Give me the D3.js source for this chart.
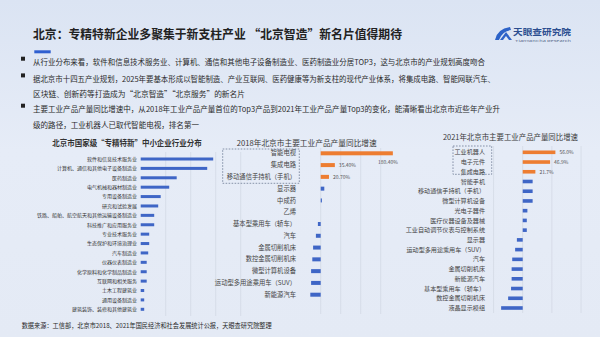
<!DOCTYPE html>
<html>
<head>
<meta charset="utf-8">
<script src="https://cdn.jsdelivr.net/npm/d3@7"></script>
<style>
  html, body { margin: 0; padding: 0; background: #e3eaf5; }
  svg { display: block; font-family: "Noto Sans CJK SC", "Noto Sans", sans-serif; }
</style>
</head>
<body>
<svg id="chart"></svg>
<script>
var width = 600,
    height = 337;

// ---- data ----
var bullets = [
  ["从行业分布来看，软件和信息技术服务业、计算机、通信和其他电子设备制造业、医药制造业分居TOP3，这与北京市的产业规划高度吻合"],
  ["据北京市十四五产业规划，2025年要基本形成以智能制造、产业互联网、医药健康等为新支柱的现代产业体系，将集成电路、智能网联汽车、",
   "区块链、创新药等打造成为“北京智造”“北京服务”的新名片"],
  ["主要工业产品产量同比增速中，从2018年工业产品产量首位的Top3产品到2021年工业产品产量Top3的变化，能清晰看出北京市近些年产业升",
   "级的路径，工业机器人已取代智能电视，排名第一"]
];

var industryCats = ["软件和信息技术服务业", "计算机、通信和其他电子设备制造业", "医药制造业", "电气机械和器材制造业",
  "专用设备制造业", "研究和试验发展", "铁路、船舶、航空航天和其他运输设备制造业", "科技推广和应用服务业",
  "专业技术服务业", "生态保护和环境治理业", "汽车制造业", "仪器仪表制造业", "化学原料和化学制品制造业",
  "互联网和相关服务", "土木工程建筑业", "通用设备制造业", "建筑装饰、装修和其他建筑业"];
var industryVals = [145, 133, 72, 57, 40, 35, 27, 27, 17, 17, 15, 12, 12, 12, 7, 7, 7];
var industryTicks = [0, 50, 100, 150, 200];

var cats2018 = ["智能电视", "集成电路", "移动通信手持机（手机）", "显示器", "中成药", "乙烯",
  "基本型乘用车（轿车）", "汽车", "金属切削机床", "数控金属切削机床", "微型计算机设备",
  "运动型多用途乘用车（SUV）", "新能源汽车"];
var vals2018 = [180.4, 35.4, 20.7, 9, 3, 0, -7, -12, -19, -21, -24, -24, -26];
var labels2018 = ["180.40%", "35.40%", "20.70%"];
var ticks2018 = [0, 50, 100, 150];

var cats2021 = ["工业机器人", "电子元件", "集成电路", "智能手机", "移动通信手持机（手机）", "微型计算机设备",
  "光电子器件", "医疗仪器设备及器械", "工业自动调节仪表与控制系统", "显示器", "运动型多用途乘用车（SUV）",
  "汽车", "金属切削机床", "新能源汽车", "基本型乘用车（轿车）", "数控金属切削机床", "液晶显示模组"];
var vals2021 = [56.0, 46.9, 21.7, 17, 17, 17, 8, 7, 7, -10, -13, -18, -19, -19, -20, -25, -37];
var labels2021 = ["56.0%", "46.9%", "21.7%"];
var ticks2021 = [-50, 0, 50, 100];

var BLUE = "#3f66c6", ORANGE = "#ed7d31", GRID = "#cdd4df";

var svg = d3.select("#chart")
  .attr("width", width)
  .attr("height", height);

// background
var defs = svg.append("defs");
var grad = defs.append("linearGradient").attr("id", "bg").attr("x1", 0).attr("y1", 0).attr("x2", 0).attr("y2", 1);
grad.append("stop").attr("offset", "0%").attr("stop-color", "#dbe4f3");
grad.append("stop").attr("offset", "45%").attr("stop-color", "#e6ecf7");
grad.append("stop").attr("offset", "100%").attr("stop-color", "#e4eaf5");
svg.append("rect").attr("width", width).attr("height", height).attr("fill", "url(#bg)");

// title
svg.append("text")
  .attr("x", 33).attr("y", 39)
  .attr("font-size", 12).attr("font-weight", "bold").attr("fill", "#222")
  .attr("textLength", 369).attr("lengthAdjust", "spacingAndGlyphs")
  .text("北京：专精特新企业多聚集于新支柱产业 “北京智造”新名片值得期待");
svg.append("rect").attr("x", 34.3).attr("y", 50.3).attr("width", 16.4).attr("height", 3).attr("fill", "#2f5fd0");

// logo
var logo = svg.append("g");
logo.append("path")
  .attr("d", "M495,40 Q497,29 510,27 L511,30 Q502,31 499,40 Z")
  .attr("fill", "#2d63c8");
logo.append("path")
  .attr("d", "M500,40 L506,32 L512,40 Z")
  .attr("fill", "#2d63c8");
logo.append("path")
  .attr("d", "M503,40 L506,36 L509,40 Z")
  .attr("fill", "#e3eaf5");
logo.append("text")
  .attr("x", 513).attr("y", 35)
  .attr("font-size", 8.5).attr("font-weight", "bold").attr("fill", "#2b4d8f")
  .attr("textLength", 58).attr("lengthAdjust", "spacingAndGlyphs")
  .text("天眼查研究院");
logo.append("text")
  .attr("x", 515).attr("y", 41.5)
  .attr("font-size", 2.6).attr("fill", "#5a6b8c")
  .attr("textLength", 56).attr("lengthAdjust", "spacingAndGlyphs")
  .text("TianYanCha Research");

// bullets
var lineY = [[62.3], [79, 94.3], [109.3, 125]];
var lineW = [[452], [462, 212], [467, 166]];
bullets.forEach(function(lines, i) {
  svg.append("rect").attr("x", 21).attr("y", lineY[i][0] - 5.6).attr("width", 4).attr("height", 4).attr("fill", "#222");
  lines.forEach(function(t, j) {
    svg.append("text")
      .attr("x", 33).attr("y", lineY[i][j] + 2.8)
      .attr("font-size", 7.6).attr("fill", "#2a2a2a")
      .attr("textLength", lineW[i][j]).attr("lengthAdjust", "spacingAndGlyphs")
      .text(t);
  });
});

// ---- left chart: industry distribution ----
var xL = d3.scaleLinear().domain([0, 200]).range([140.7, 240.7]);
var yL = d3.scalePoint().domain(industryCats).range([159, 309.3]);

svg.append("text")
  .attr("x", 52.3).attr("y", 146.3)
  .attr("font-size", 8.3).attr("font-weight", "bold").attr("fill", "#333")
  .attr("textLength", 149.4).attr("lengthAdjust", "spacingAndGlyphs")
  .text("北京市国家级“专精特新”中小企业行业分布");

var gL = svg.append("g");
gL.selectAll("line.grid")
  .data(industryTicks.slice(1))
  .enter().append("line")
  .attr("class", "grid")
  .attr("x1", function(d) { return xL(d); })
  .attr("x2", function(d) { return xL(d); })
  .attr("y1", 152).attr("y2", 316)
  .attr("stroke", GRID).attr("stroke-width", 0.6);

gL.selectAll("rect.bar")
  .data(industryVals)
  .enter().append("rect")
  .attr("class", "bar")
  .attr("x", xL(0))
  .attr("y", function(d, i) { return yL(industryCats[i]) - 1.5; })
  .attr("width", function(d) { return xL(d) - xL(0); })
  .attr("height", 3)
  .attr("fill", BLUE);

gL.selectAll("text.lab")
  .data(industryCats)
  .enter().append("text")
  .attr("class", "lab")
  .attr("x", 137)
  .attr("y", function(d) { return yL(d) + 1.8; })
  .attr("text-anchor", "end")
  .attr("font-size", 5).attr("fill", "#333")
  .text(function(d) { return d; });

// ---- generic growth chart ----
function growthChart(opt) {
  var x = d3.scaleLinear().domain(opt.domain).range(opt.range);
  var y = d3.scalePoint().domain(opt.cats).range(opt.yRange);
  var g = svg.append("g");

  g.append("text")
    .attr("x", opt.titleX).attr("y", opt.titleY)
    .attr("text-anchor", "middle")
    .attr("font-size", 7.6).attr("fill", "#3a3a3a")
    .attr("textLength", opt.titleW).attr("lengthAdjust", "spacingAndGlyphs")
    .text(opt.title);

  g.selectAll("line.grid")
    .data(opt.ticks)
    .enter().append("line")
    .attr("class", "grid")
    .attr("x1", function(d) { return x(d); })
    .attr("x2", function(d) { return x(d); })
    .attr("y1", opt.gridY[0]).attr("y2", opt.gridY[1])
    .attr("stroke", GRID).attr("stroke-width", 0.6);

  g.selectAll("rect.bar")
    .data(opt.vals)
    .enter().append("rect")
    .attr("class", "bar")
    .attr("x", function(d) { return x(Math.min(0, d)); })
    .attr("y", function(d, i) { return y(opt.cats[i]) - opt.barH / 2; })
    .attr("width", function(d) { return Math.abs(x(d) - x(0)); })
    .attr("height", opt.barH)
    .attr("fill", function(d, i) { return i < 3 ? ORANGE : BLUE; });

  g.selectAll("text.lab")
    .data(opt.cats)
    .enter().append("text")
    .attr("class", "lab")
    .attr("x", opt.labelX)
    .attr("y", function(d) { return y(d) + 2.1; })
    .attr("text-anchor", "end")
    .attr("font-size", opt.labelSize).attr("fill", "#444")
    .text(function(d) { return d; });

  g.selectAll("text.val")
    .data(opt.valueLabels)
    .enter().append("text")
    .attr("class", "val")
    .attr("x", function(d, i) {
      var v = opt.vals[i];
      return v > opt.domain[1] * 0.8 ? x(v) + 5 : x(v) + 4;
    })
    .attr("y", function(d, i) {
      var v = opt.vals[i];
      return v > opt.domain[1] * 0.8 ? y(opt.cats[i]) + 10.8 : y(opt.cats[i]) + 1.8;
    })
    .attr("text-anchor", function(d, i) { return opt.vals[i] > opt.domain[1] * 0.8 ? "end" : "start"; })
    .attr("font-size", 5).attr("fill", "#555")
    .text(function(d) { return d; });

  var b = opt.box;
  g.append("rect")
    .attr("x", b[0]).attr("y", b[1]).attr("width", b[2] - b[0]).attr("height", b[3] - b[1])
    .attr("fill", "none").attr("stroke", "#5d6b86").attr("stroke-width", 0.7)
    .attr("stroke-dasharray", "1.6,1.4");
}

growthChart({
  title: "2018年北京市主要工业产品产量同比增速",
  titleX: 306.7, titleY: 146, titleW: 140,
  cats: cats2018, vals: vals2018, valueLabels: labels2018, ticks: ticks2018,
  domain: [-50, 200], range: [300.7, 400.7],
  yRange: [153.3, 294.7], gridY: [148, 314], barH: 4,
  labelX: 296, labelSize: 6.3,
  box: [222.7, 149, 299.3, 183.3]
});

growthChart({
  title: "2021年北京市主要工业产品产量同比增速",
  titleX: 510.5, titleY: 140, titleW: 135,
  cats: cats2021, vals: vals2021, valueLabels: labels2021, ticks: ticks2021,
  domain: [-50, 100], range: [493.55, 581.05],
  yRange: [152.3, 308], gridY: [146, 313], barH: 3.6,
  labelX: 485, labelSize: 6.1,
  box: [453, 146, 491.7, 174.3]
});

// source
svg.append("text")
  .attr("x", 21.7).attr("y", 327.5)
  .attr("font-size", 6.5).attr("fill", "#2a2a2a")
  .attr("textLength", 250).attr("lengthAdjust", "spacingAndGlyphs")
  .text("数据来源：工信部，北京市2018、2021年国民经济和社会发展统计公报，天眼查研究院整理");
</script>
</body>
</html>
